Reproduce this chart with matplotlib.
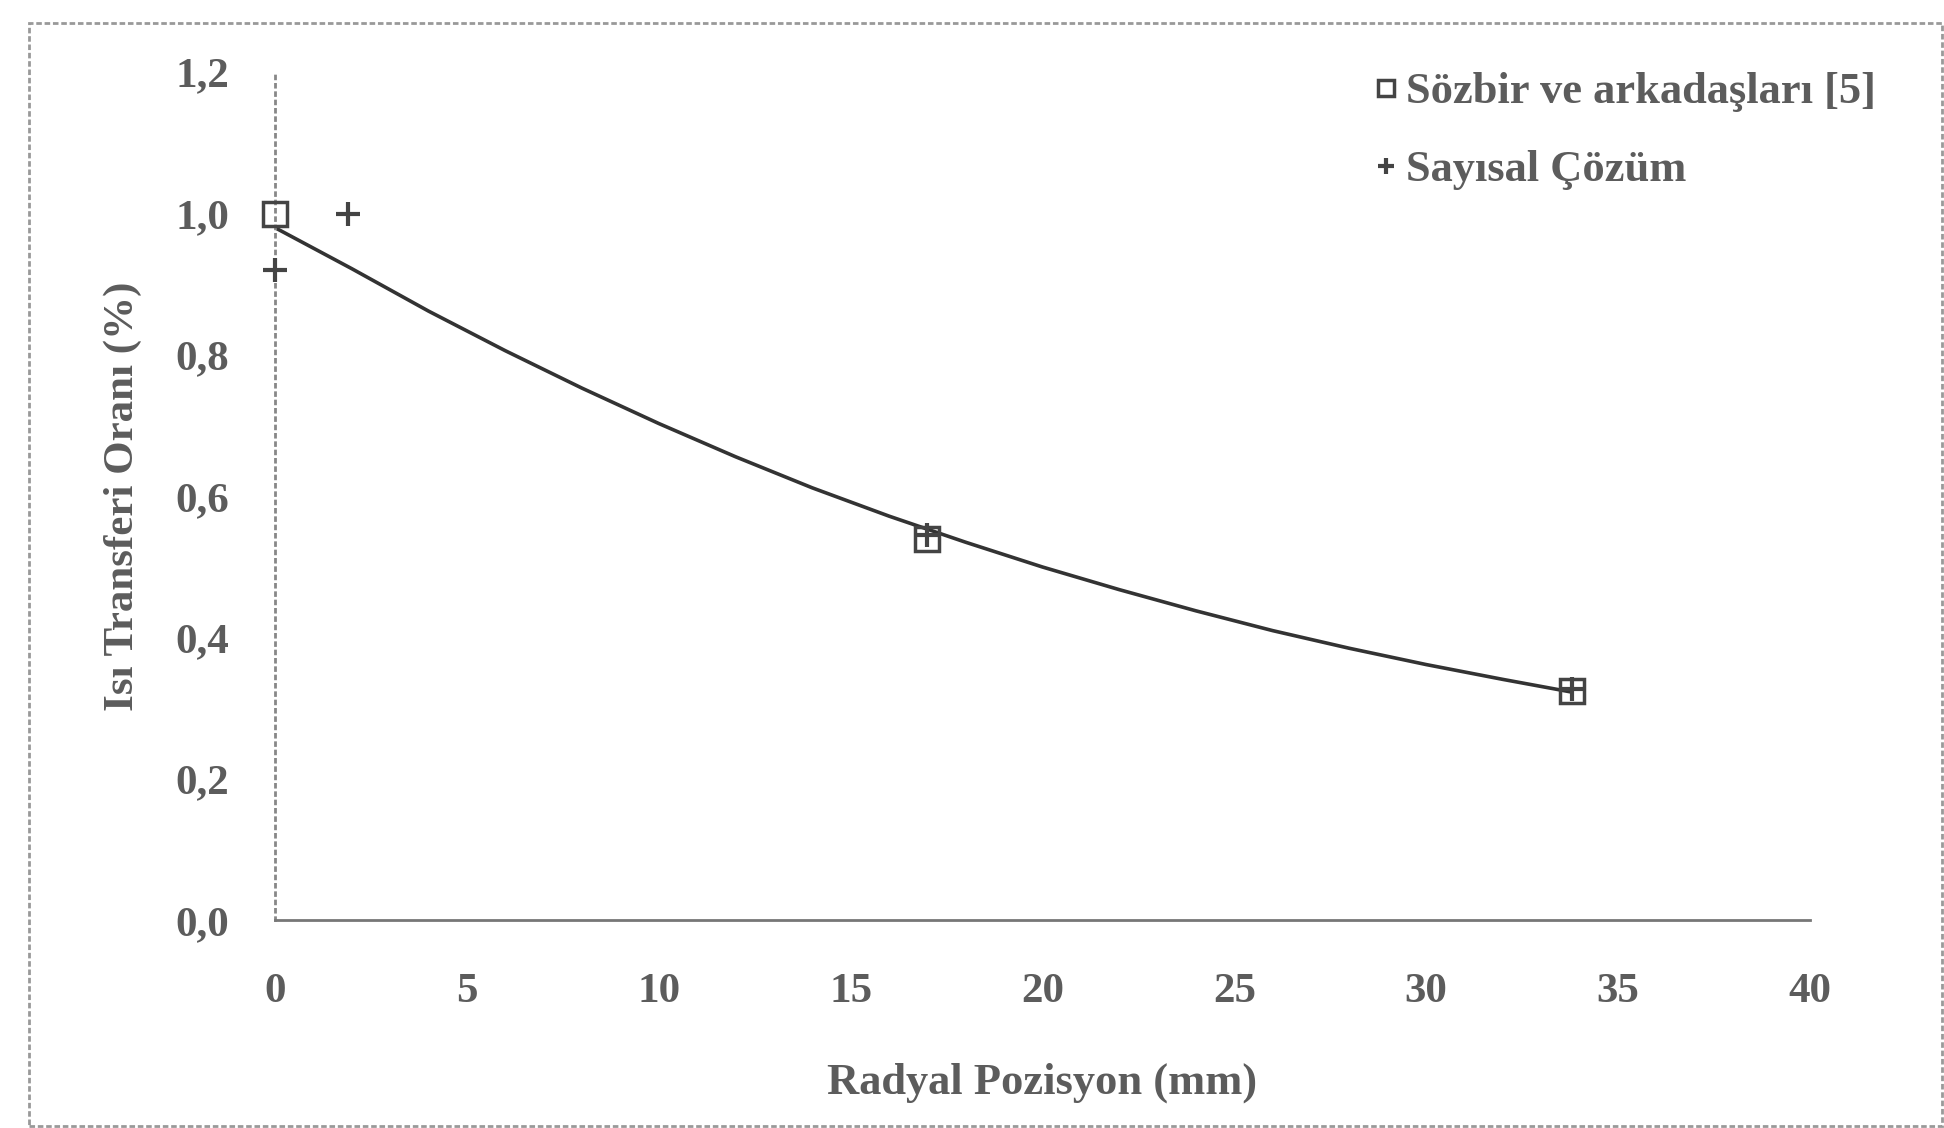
import numpy as np
import matplotlib.pyplot as plt
from matplotlib.patches import Rectangle

# --- veri ---
x_sozbir = [0, 17, 33.8]
y_sozbir = [1.0, 0.54, 0.325]

x_sayisal = [0, 1.9, 17, 33.8]
y_sayisal = [0.92, 1.0, 0.545, 0.328]

# egri (resimden okunan noktalar)
x_egri = [0, 2, 4, 6, 8, 10, 12, 14, 16, 18, 20, 22, 24, 26, 28, 30, 32, 33.8]
y_egri = [0.98, 0.922, 0.862, 0.806, 0.753, 0.703, 0.656, 0.612, 0.572,
          0.535, 0.5, 0.468, 0.438, 0.41, 0.385, 0.362, 0.341, 0.323]

xticks = [0, 5, 10, 15, 20, 25, 30, 35, 40]
yticks = [0.0, 0.2, 0.4, 0.6, 0.8, 1.0, 1.2]

gri = '#5c5c5c'
plt.rcParams['font.family'] = ['Liberation Serif', 'DejaVu Serif']

fig = plt.figure(figsize=(19.44, 11.28), dpi=100)
ax = fig.add_axes([0.1415, 0.184, 0.7895, 0.752])

ax.plot(x_egri, y_egri, color='#333333', lw=2.6, zorder=2)
ax.plot(x_sozbir, y_sozbir, ls='none', marker='s', ms=17, mfc='none',
        mec='#444444', mew=2.5, label='Sözbir ve arkadaşları [5]', zorder=3,
        clip_on=False)
ax.plot(x_sayisal, y_sayisal, ls='none', marker='+', ms=17,
        mec='#444444', mew=3, label='Sayısal Çözüm', zorder=3, clip_on=False)

ax.set_xlim(0, 40)
ax.set_ylim(0, 1.2)
ax.set_xticks(xticks)
ax.set_xticklabels([str(v) for v in xticks])
ax.set_yticks(yticks)
ax.set_yticklabels([f'{v:.1f}'.replace('.', ',') for v in yticks])
ax.tick_params(length=0, labelsize=31, labelcolor=gri, pad=38)
ax.tick_params(axis='y', pad=33)
for lab in ax.get_xticklabels() + ax.get_yticklabels():
    lab.set_fontweight('bold')

for s in ['top', 'right']:
    ax.spines[s].set_visible(False)
ax.spines['left'].set_linestyle((0, (1, 2)))
ax.spines['left'].set_color('#888888')
ax.spines['left'].set_linewidth(2)
ax.spines['bottom'].set_linestyle((0, (2, 1)))
ax.spines['bottom'].set_color('#777777')
ax.spines['bottom'].set_linewidth(2)

ax.set_xlabel('Radyal Pozisyon (mm)', fontsize=32, color=gri,
              fontweight='bold', labelpad=37)
ax.set_ylabel('Isı Transferi Oranı (%)', fontsize=31, color=gri,
              fontweight='bold', labelpad=24)

leg = ax.legend(loc='upper right', bbox_to_anchor=(1.069, 1.047), frameon=False,
                fontsize=32, handlelength=0.4, handletextpad=0.25,
                labelspacing=0.85, markerscale=0.65)
for t in leg.get_texts():
    t.set_color(gri)
    t.set_fontweight('bold')

# dis cerceve (taranmis sayfa)
fig.patches.append(Rectangle((0.015, 0.002), 0.984, 0.978,
                             transform=fig.transFigure, fill=False,
                             ec='#999999', lw=2, ls=(0, (2, 1))))

fig.savefig('out.png', dpi=100, facecolor='white')
